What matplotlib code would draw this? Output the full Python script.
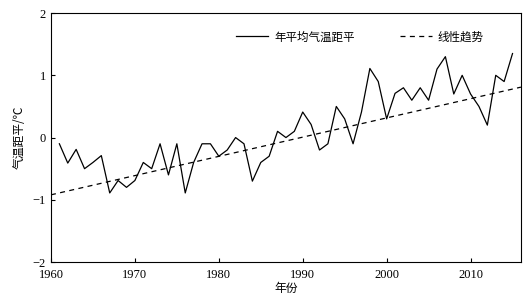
import matplotlib
matplotlib.use("Agg")
import matplotlib.pyplot as plt

plt.rcParams['font.family'] = ['Liberation Serif', 'Noto Sans CJK SC']
plt.rcParams['axes.unicode_minus'] = True

years = list(range(1961, 2016))
anomaly = [-0.1, -0.41, -0.19, -0.5, -0.4, -0.29, -0.89, -0.69, -0.8, -0.69,
           -0.4, -0.5, -0.1, -0.6, -0.1, -0.89, -0.4, -0.1, -0.1, -0.3,
           -0.2, 0.0, -0.1, -0.7, -0.4, -0.3, 0.1, 0.0, 0.1, 0.41,
           0.21, -0.2, -0.1, 0.5, 0.3, -0.1, 0.41, 1.11, 0.9, 0.3,
           0.71, 0.8, 0.6, 0.8, 0.6, 1.1, 1.3, 0.7, 1.0, 0.7,
           0.5, 0.2, 1.0, 0.9, 1.35]

# linear trend as drawn in the original (end values)
trend_years = [1960, 2016]
trend_vals = [-0.92, 0.81]

fig = plt.figure(figsize=(5.31, 3.04), dpi=100)
ax = fig.add_axes([0.096, 0.138, 0.885, 0.819])

ax.plot(years, anomaly, color='black', lw=0.9, label='年平均气温距平')
ax.plot(trend_years, trend_vals, color='black', lw=0.9, ls=(0, (4, 3.5)), label='线性趋势')

ax.set_xlim(1960, 2016)
ax.set_ylim(-2, 2)
ax.set_xticks([1960, 1970, 1980, 1990, 2000, 2010])
ax.set_yticks([-2, -1, 0, 1, 2])
ax.tick_params(direction='in', length=3, labelsize=9, width=0.8)
ax.tick_params(axis='x', pad=5)
for s in ax.spines.values():
    s.set_linewidth(0.8)

ax.set_xlabel('年份', fontsize=8.5, family=['Noto Sans CJK SC'], labelpad=1)
ax.set_ylabel('气温距平/℃', fontsize=8.5, family=['Noto Sans CJK SC', 'DejaVu Sans'], labelpad=5)

ax.legend(loc='upper left', ncol=2, frameon=False,
          prop={'family': ['Noto Sans CJK SC'], 'size': 8.3},
          bbox_to_anchor=(0.394, 0.93), borderpad=0, borderaxespad=0,
          handlelength=2.8, handletextpad=0.5, columnspacing=3.9)

fig.savefig('out.png', dpi=100)
